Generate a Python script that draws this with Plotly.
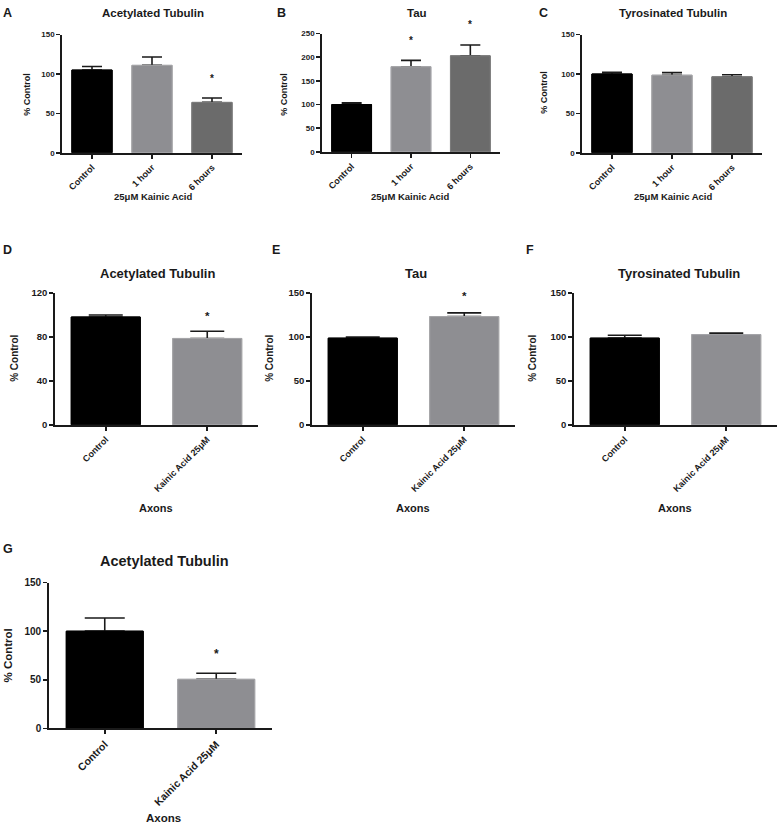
import plotly.graph_objects as go

W, H = 779, 831

# ---------------- data ----------------
cats_time = ["Control", "1 hour", "6 hours"]
cats_axon = ["Control", "Kainic Acid 25μM"]

A_vals = [105, 111, 64]
A_err = [4.5, 10.5, 5.5]
A_sig = [False, False, True]

B_vals = [100, 180, 203]
B_err = [3.5, 13.5, 23]
B_sig = [False, True, True]

C_vals = [100, 98.5, 96.5]
C_err = [2.3, 3.2, 2.6]
C_sig = [False, False, False]

D_vals = [98, 78.5]
D_err = [1.8, 6.5]
D_sig = [False, True]

E_vals = [98.5, 123]
E_err = [1.2, 4.2]
E_sig = [False, True]

F_vals = [98.5, 102.5]
F_err = [3.2, 1.8]
F_sig = [False, False]

G_vals = [100, 50.5]
G_err = [13.5, 6.3]
G_sig = [False, True]

titles = ["Acetylated Tubulin", "Tau", "Tyrosinated Tubulin",
          "Acetylated Tubulin", "Tau", "Tyrosinated Tubulin",
          "Acetylated Tubulin"]
letters = ["A", "B", "C", "D", "E", "F", "G"]
ylabel = "% Control"
xlabel_time = "25μM Kainic Acid"
xlabel_axon = "Axons"

# ---------------- styles ----------------
FILL3 = ["#000000", "#8e8e92", "#6b6b6b"]
LINE3 = ["#000000", "#a6a6a9", "#7c7c7c"]
FILL2 = ["#000000", "#8e8e92"]
LINE2 = ["#000000", "#a6a6a9"]
INK = "#1a1a1a"
FONT = "Liberation Sans, Arial, sans-serif"

def xd(a, b):
    return [a / W, b / W]

def yd(top, bottom):
    return [1 - bottom / H, 1 - top / H]

def px(x):
    return x / W

def py(y):
    return 1 - y / H

panels = [
    dict(cats=cats_time, vals=A_vals, err=A_err, sig=A_sig, x=(62, 242), y=(29, 149), rng=150, dt=50,
         bw=0.67, cap=10, tf=8, xtf=9, title=(153, 7, 11.5), letter=(8, 7), yl=(27, 90, 9),
         xl=(153, 193, 9.5, xlabel_time), star=22),
    dict(cats=cats_time, vals=B_vals, err=B_err, sig=B_sig, x=(322, 500), y=(28, 148), rng=250, dt=50,
         bw=0.67, cap=10, tf=8, xtf=9, title=(417, 7, 11.5), letter=(281, 7), yl=(284, 90, 9),
         xl=(410, 193, 9.5, xlabel_time), star=22),
    dict(cats=cats_time, vals=C_vals, err=C_err, sig=C_sig, x=(582, 762), y=(29, 149), rng=150, dt=50,
         bw=0.67, cap=10, tf=8, xtf=9, title=(673, 7, 11.5), letter=(543, 7), yl=(544, 88, 9),
         xl=(673, 193, 9.5, xlabel_time), star=22),
    dict(cats=cats_axon, vals=D_vals, err=D_err, sig=D_sig, x=(55, 258), y=(291, 425), rng=120, dt=40,
         bw=0.68, cap=17, tf=9.5, xtf=9, title=(157, 271, 13), letter=(8, 248), yl=(15, 358, 10),
         xl=(156, 509, 11, xlabel_axon), star=17),
    dict(cats=cats_axon, vals=E_vals, err=E_err, sig=E_sig, x=(312, 515), y=(291, 425), rng=150, dt=50,
         bw=0.68, cap=17, tf=9.5, xtf=9, title=(416, 271, 13), letter=(276, 248), yl=(270, 358, 10),
         xl=(413, 509, 11, xlabel_axon), star=19),
    dict(cats=cats_axon, vals=F_vals, err=F_err, sig=F_sig, x=(574, 777), y=(291, 425), rng=150, dt=50,
         bw=0.68, cap=17, tf=9.5, xtf=9, title=(679, 271, 13), letter=(530, 248), yl=(533, 358, 10),
         xl=(675, 509, 11, xlabel_axon), star=19),
    dict(cats=cats_axon, vals=G_vals, err=G_err, sig=G_sig, x=(49, 272), y=(585, 733), rng=150, dt=50,
         bw=0.69, cap=20, tf=10, xtf=10.5, title=(164, 563, 14.5), letter=(8, 551), yl=(8, 659, 11.5),
         xl=(163, 824, 11.5, xlabel_axon), star=21),
]

fig = go.Figure()
annotations = []
layout = {}

for i, p in enumerate(panels):
    n = i + 1
    xa = "x" if n == 1 else f"x{n}"
    ya = "y" if n == 1 else f"y{n}"
    k = len(p["cats"])
    fills = FILL3 if k == 3 else FILL2
    lines = LINE3 if k == 3 else LINE2
    fig.add_trace(go.Bar(
        x=p["cats"], y=p["vals"], xaxis=xa, yaxis=ya, width=p["bw"],
        marker=dict(color=fills, line=dict(color=lines, width=1)),
        error_y=dict(type="data", array=p["err"], arrayminus=[0] * k, symmetric=False,
                     color=INK, thickness=1.6, width=p["cap"]),
        showlegend=False, hoverinfo="skip"))
    fig.add_trace(go.Bar(
        x=p["cats"], y=p["vals"], xaxis=xa, yaxis=ya, width=p["bw"],
        marker=dict(color=fills, line=dict(color=lines, width=1)),
        showlegend=False, hoverinfo="skip"))

    axis_common = dict(showline=True, linecolor=INK, linewidth=1.8, ticks="outside",
                       ticklen=4, tickwidth=1.6, tickcolor=INK, showgrid=False, zeroline=False)
    layout["xaxis" if n == 1 else f"xaxis{n}"] = dict(
        domain=xd(*p["x"]), anchor=ya, type="category", range=[-0.5, k - 0.5],
        tickangle=-45, tickfont=dict(family=FONT, size=p["xtf"], color=INK, weight="bold"),
        **axis_common)
    layout["yaxis" if n == 1 else f"yaxis{n}"] = dict(
        domain=yd(*p["y"]), anchor=xa, range=[0, p["rng"]], dtick=p["dt"], tick0=0,
        tickfont=dict(family=FONT, size=p["tf"], color=INK, weight="bold"),
        **axis_common)

    for c, v, e, s in zip(p["cats"], p["vals"], p["err"], p["sig"]):
        if s:
            annotations.append(dict(x=c, y=v + e, xref=xa, yref=ya, text="*", showarrow=False,
                                    yanchor="middle", yshift=p["star"] - 2,
                                    font=dict(family=FONT, size=p["tf"] + 2, color=INK, weight="bold")))

    tx, ty, ts = p["title"]
    annotations.append(dict(x=px(tx), y=py(ty), xref="paper", yref="paper", text=titles[i],
                            showarrow=False, xanchor="center", yanchor="middle",
                            font=dict(family=FONT, size=ts, color=INK, weight="bold")))
    lx, ly = p["letter"]
    annotations.append(dict(x=px(lx), y=py(ly), xref="paper", yref="paper", text=letters[i],
                            showarrow=False, xanchor="center", yanchor="middle",
                            font=dict(family=FONT, size=12.5, color=INK, weight="bold")))
    yx, yy, ys = p["yl"]
    annotations.append(dict(x=px(yx), y=py(yy), xref="paper", yref="paper", text=ylabel,
                            showarrow=False, xanchor="center", yanchor="middle", textangle=-90,
                            font=dict(family=FONT, size=ys, color=INK, weight="bold")))
    xx, xy, xs, xt = p["xl"]
    annotations.append(dict(x=px(xx), y=py(xy), xref="paper", yref="paper", text=xt,
                            showarrow=False, xanchor="center", yanchor="middle",
                            font=dict(family=FONT, size=xs, color=INK, weight="bold")))

fig.update_layout(
    width=W, height=H, margin=dict(l=0, r=0, t=0, b=0),
    paper_bgcolor="white", plot_bgcolor="white",
    barmode="overlay", bargap=0, showlegend=False,
    annotations=annotations, **layout)

fig.write_html(
    "out.html",
    config={"displayModeBar": False, "staticPlot": True},
    post_script=(
        "document.documentElement.style.margin='0';"
        "document.body.style.margin='0';document.body.style.padding='0';"
        "document.documentElement.style.overflow='hidden';"
        "var g=document.getElementById('{plot_id}');"
        "g.style.position='fixed';g.style.left='0px';g.style.top='0px';"
    ),
)
